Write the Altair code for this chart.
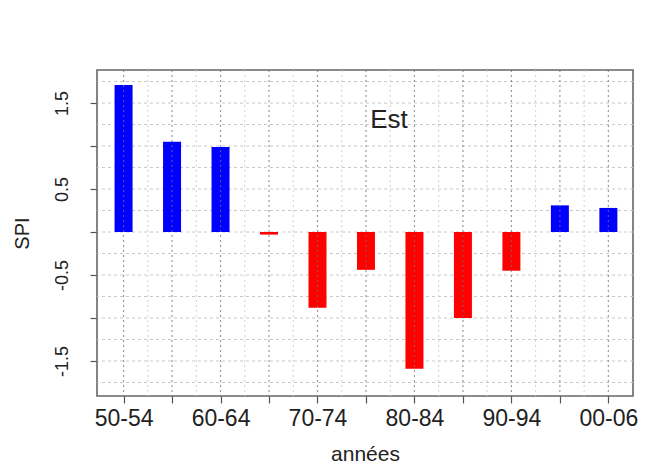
import altair as alt
import pandas as pd

cats = ['50-54', '55-59', '60-64', '65-69', '70-74', '75-79',
        '80-84', '85-89', '90-94', '95-99', '00-06']
spi = [1.71, 1.05, 0.99, -0.03, -0.88, -0.44, -1.59, -1.00, -0.45, 0.31, 0.28]
y_ticks = [-1.5, -1.0, -0.5, 0.0, 0.5, 1.0, 1.5]
y_labels = ['-1.5', '-0.5', '0.5', '1.5']
panel_title = 'Est'

df = pd.DataFrame({'cat': cats, 'spi': spi, 'idx': list(range(len(cats)))})

FONT = 'Liberation Sans'
xscale = alt.Scale(domain=[-0.445, 10.405], nice=False, zero=False)
yscale = alt.Scale(domain=[-1.907, 1.884], nice=False, zero=False)

names_js = '[' + ','.join("'%s'" % c for c in cats) + ']'
ylab_js = '[' + ','.join("'%s'" % v for v in y_labels) + ']'
ystr = "replace(format(datum.value, '.1f'), '\u2212', '-')"

xaxis = alt.Axis(values=list(range(len(cats))),
                 labelExpr="datum.value % 2 == 0 ? " + names_js + "[datum.value] : ''",
                 title='années', grid=False, domain=False,
                 tickSize=7, tickColor='#555', tickWidth=1.2,
                 labelFontSize=23, labelFont=FONT, labelColor='#222',
                 labelPadding=4, labelFlush=False, labelOverlap=False,
                 titleFontSize=21, titleFont=FONT, titleFontWeight='normal',
                 titleColor='#222', titlePadding=13)
yaxis = alt.Axis(values=y_ticks,
                 labelExpr="indexof(" + ylab_js + ", " + ystr + ") >= 0 ? " + ystr + " : ''",
                 title='SPI', grid=False, domain=False,
                 tickSize=7, tickColor='#555', tickWidth=1.2,
                 labelAngle=270, labelAlign='center', labelBaseline='bottom',
                 labelFontSize=18, labelFont=FONT, labelColor='#222',
                 labelPadding=19, labelOverlap=False,
                 titleFontSize=20, titleFont=FONT, titleFontWeight='normal',
                 titleColor='#222', titlePadding=21)

X = lambda: alt.X('idx:Q', scale=xscale, axis=xaxis, title='années')
Y = lambda: alt.Y('spi:Q', scale=yscale, axis=yaxis, title='SPI')

hgrid = alt.Chart(alt.sequence(-1.75, 2.0, 0.25, as_='spi')).mark_rule(
    color='#c8c8c8', strokeDash=[3, 3], strokeWidth=1
).encode(y=Y())

vgrid_mid = alt.Chart(alt.sequence(0.5, 10.0, 1.0, as_='idx')).mark_rule(
    color='#d0d0d0', strokeDash=[2, 3], strokeWidth=1
).encode(x=X())

bars = alt.Chart(df).mark_bar(width=18).encode(
    x=X(), y=Y(),
    color=alt.condition(alt.datum.spi >= 0, alt.value('#0000ff'), alt.value('#ff0000'))
)

vgrid_c = alt.Chart(alt.sequence(0, 10.5, 1.0, as_='idx')).mark_rule(
    color='#707070', strokeDash=[2, 3], strokeWidth=1.2, opacity=0.7
).encode(x=X())

label = alt.Chart(pd.DataFrame({'t': [panel_title]})).mark_text(
    font=FONT, fontSize=26, color='#222', align='center', baseline='middle'
).encode(x=alt.value(292), y=alt.value(50), text='t:N')

chart = alt.layer(hgrid, vgrid_mid, bars, vgrid_c, label).properties(
    width=536, height=326,
    autosize=alt.AutoSizeParams(type='none'),
    padding={'left': 89, 'top': 62, 'right': 20, 'bottom': 70},
    background='white'
).configure_view(stroke='#666', strokeWidth=1.6)

chart.save('out.html', embed_options={'renderer': 'svg', 'actions': False})
